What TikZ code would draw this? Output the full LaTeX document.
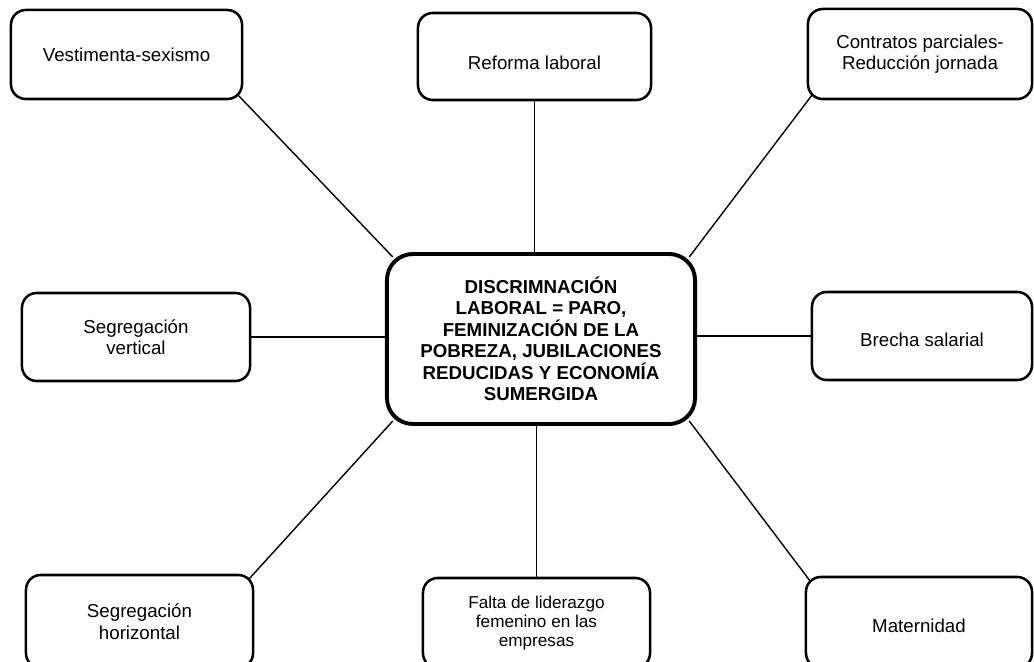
\documentclass[tikz,border=0pt]{standalone}
\usepackage{fontspec}
\setmainfont{Liberation Sans}
\begin{document}
\begin{tikzpicture}[x=0.025cm,y=-0.025cm,
    caja/.style={draw,line width=1.8pt,rounded corners=0.37cm,align=center,inner sep=0pt,
        font=\fontsize{13.3}{15.3}\selectfont},
    central/.style={draw,line width=2.8pt,rounded corners=0.65cm,align=center,inner sep=0pt,
        font=\fontsize{13.3}{15.3}\selectfont\bfseries},
    enlace/.style={line width=1pt}]
    % Marco de la imagen
    \useasboundingbox (0,0) rectangle (1034,662);

    % Nodo central
    \node[central,minimum width=7.7cm,minimum height=4.25cm] (centro) at (541,339)
        {DISCRIMNACIÓN\\LABORAL = PARO,\\FEMINIZACIÓN DE LA\\POBREZA, JUBILACIONES\\REDUCIDAS Y ECONOMÍA\\SUMERGIDA};

    % Cajas de arriba
    \node[caja,minimum width=5.775cm,minimum height=2.225cm] (vest) at (126.5,54.5) {Vestimenta-sexismo};
    \node[caja,minimum width=5.825cm,minimum height=2.175cm,text height=18pt,text depth=0pt] (reforma) at (534.5,56.5) {Reforma laboral};
    \node[caja,minimum width=5.6cm,minimum height=2.25cm] (contratos) at (920,54) {Contratos parciales-\\Reducción jornada};

    % Cajas del medio
    \node[caja,minimum width=5.7cm,minimum height=2.2cm] (segv) at (136,337) {Segregación\\vertical};
    \node[caja,minimum width=5.5cm,minimum height=2.2cm,text height=15.4pt,text depth=0pt] (brecha) at (922,336) {Brecha salarial};

    % Cajas de abajo
    \node[caja,minimum width=5.675cm,minimum height=2.325cm] (segh) at (139.5,621.5) {Segregación\\horizontal};
    \node[caja,minimum width=5.675cm,minimum height=2.25cm,font=\fontsize{12.2}{13.6}\selectfont] (falta) at (536.5,623)
        {Falta de liderazgo\\femenino en las\\empresas};
    \node[caja,minimum width=5.65cm,minimum height=2.275cm,text height=14pt,text depth=0pt] (mater) at (919,622.5) {Maternidad};

    % Enlaces
    \draw[enlace] ([shift={(-4pt,4pt)}]vest.south east) -- ([shift={(5.5pt,-3.5pt)}]centro.north west);
    \draw[enlace] (reforma.south) -- (reforma.south |- centro.north);
    \draw[enlace] ([shift={(4pt,4pt)}]contratos.south west) -- ([shift={(-5.5pt,-3.5pt)}]centro.north east);
    \draw[enlace] (segv.east) -- (segv.east -| centro.west);
    \draw[enlace] (brecha.west) -- (brecha.west -| centro.east);
    \draw[enlace] ([shift={(-4pt,-4pt)}]segh.north east) -- ([shift={(5.5pt,3.5pt)}]centro.south west);
    \draw[enlace] (falta.north) -- (falta.north |- centro.south);
    \draw[enlace] ([shift={(4pt,-4pt)}]mater.north west) -- ([shift={(-5.5pt,3.5pt)}]centro.south east);
\end{tikzpicture}
\end{document}
